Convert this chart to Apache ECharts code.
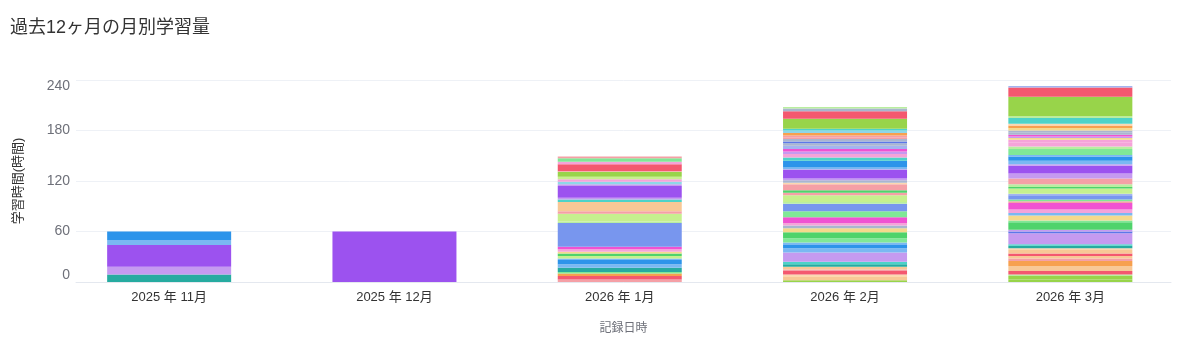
<!DOCTYPE html>
<html>
<head>
<meta charset="utf-8">
<script src="https://cdn.jsdelivr.net/npm/echarts@6/dist/echarts.min.js"></script>
<style>
  html, body { margin: 0; padding: 0; background: #fff; }
  #chart { width: 1183px; height: 343px; }
</style>
</head>
<body>
<div id="chart"></div>
<script>
// ---- data (values in hours, segments listed bottom to top) ----
const months = ['2025 年 11月', '2025 年 12月', '2026 年 1月', '2026 年 2月', '2026 年 3月'];
const yTicks = [0, 60, 120, 180, 240];

const nov = [9, 9, 26, 6, 10];
const dec = [60];
const jan = [3, 4, 3, 2, 5, 4, 5, 2, 3, 3, 2, 3, 3, 28, 2, 9, 3, 11, 3, 2, 14, 2, 3, 3, 3, 6, 1, 8, 3, 4, 2];
const feb = [2, 4, 3, 4, 2, 3, 3, 3, 11, 5, 4, 3, 5, 7, 5, 3, 3, 7, 7, 9, 2, 8, 3, 3, 7, 2, 3, 2, 10, 1, 2, 8, 4, 4, 3, 3, 4, 3, 2, 3, 2, 2, 3, 3, 2, 12, 9, 3, 2];
const mar = [3, 4, 2, 4, 6, 6, 3, 3, 3, 4, 2, 3, 2, 13, 2, 2, 9, 2, 6, 3, 4, 8, 2, 2, 5, 2, 6, 2, 3, 7, 3, 3, 9, 2, 4, 5, 2, 7, 3, 5, 3, 2, 2, 2, 3, 2, 3, 3, 2, 7, 2, 23, 11, 2];

// ---- styles (colour keys per segment, same order as the data) ----
const palette = {
  red: '#f4586f', green: '#98d44a', green2: '#4fd36b', mint: '#80e896', palegreen: '#b9eea0',
  lightgreen: '#c6f08e', teal: '#26aba0', cyan: '#4dd3c8', skyblue: '#8fd6e8', blue: '#2d94ea',
  lightblue: '#7ab8f2', royal: '#5b78e8', periwinkle: '#7896ee', lightperi: '#a3b4f0',
  purple: '#9c52ef', lavender: '#c59af0', magenta: '#f052d2', pinklight: '#f5a3d9',
  salmon: '#f5a0a6', peach: '#f8c896', apricot: '#fbd8b0', orange: '#f7a04e',
  yellow: '#f5d98c', greyblue: '#a9b6cf'
};
const novC = ['teal', 'lavender', 'purple', 'lightblue', 'blue'];
const decC = ['purple'];
const janC = ['salmon', 'red', 'orange', 'mint', 'teal', 'lightblue', 'blue', 'lightblue', 'lightgreen', 'green2', 'yellow', 'pinklight', 'magenta', 'periwinkle', 'palegreen', 'lightgreen', 'salmon', 'peach', 'cyan', 'lavender', 'purple', 'lavender', 'skyblue', 'pinklight', 'lightgreen', 'green', 'salmon', 'red', 'pinklight', 'mint', 'salmon'];
const febC = ['green', 'peach', 'apricot', 'red', 'salmon', 'peach', 'teal', 'cyan', 'lavender', 'lightblue', 'blue', 'lightblue', 'mint', 'green2', 'yellow', 'greyblue', 'pinklight', 'magenta', 'mint', 'periwinkle', 'palegreen', 'lightgreen', 'salmon', 'green2', 'salmon', 'apricot', 'greyblue', 'lavender', 'purple', 'lavender', 'lightblue', 'blue', 'cyan', 'pinklight', 'lavender', 'magenta', 'lightperi', 'greyblue', 'royal', 'greyblue', 'salmon', 'salmon', 'orange', 'skyblue', 'cyan', 'green', 'red', 'greyblue', 'palegreen'];
const marC = ['green', 'green', 'palegreen', 'red', 'peach', 'orange', 'salmon', 'peach', 'red', 'peach', 'apricot', 'teal', 'cyan', 'lavender', 'royal', 'lavender', 'green2', 'mint', 'yellow', 'lightblue', 'pinklight', 'magenta', 'salmon', 'mint', 'periwinkle', 'lightperi', 'lightgreen', 'green2', 'palegreen', 'salmon', 'lavender', 'lavender', 'purple', 'lavender', 'lightblue', 'blue', 'lightblue', 'mint', 'palegreen', 'pinklight', 'pinklight', 'yellow', 'lavender', 'magenta', 'greyblue', 'greyblue', 'yellow', 'orange', 'apricot', 'cyan', 'palegreen', 'green', 'red', 'lightperi'];

const perMonth = [nov, dec, jan, feb, mar];
const perMonthC = [novC, decC, janC, febC, marC];
const nSeg = Math.max(...perMonth.map(a => a.length));

const FONT = '"Liberation Sans", "Noto Sans CJK JP", sans-serif';

const series = [];
for (let i = 0; i < nSeg; i++) {
  series.push({
    type: 'bar',
    stack: 'total',
    xAxisIndex: 0,
    yAxisIndex: 0,
    barWidth: 124,
    itemStyle: { borderWidth: 0 },
    emphasis: { disabled: true },
    data: perMonth.map((arr, m) => arr[i] == null ? null : {
      value: arr[i],
      itemStyle: { color: palette[perMonthC[m][i]] }
    })
  });
}

const yMin = yTicks[0], yMax = yTicks[yTicks.length - 1];

const chart = echarts.init(document.getElementById('chart'), null, { renderer: 'canvas' });
chart.setOption({
  animation: false,
  backgroundColor: '#fff',
  textStyle: { fontFamily: FONT },
  title: {
    text: '過去12ヶ月の月別学習量',
    left: 5, top: 14,
    textStyle: { fontSize: 18, fontWeight: 'normal', color: '#333', fontFamily: FONT }
  },
  grid: [
    { left: 56.5, width: 1128, top: 80, bottom: 61 },
    { left: 76, right: 12, top: 80, bottom: 61 }
  ],
  xAxis: [
    {
      type: 'category', gridIndex: 0, data: months,
      axisLine: { show: false }, axisTick: { show: false },
      axisLabel: { color: '#333', fontSize: 13, margin: 9, fontFamily: FONT }
    },
    {
      type: 'category', gridIndex: 1, data: [''],
      axisLine: { show: true, lineStyle: { color: '#e4e8ef' } },
      axisTick: { show: false }, axisLabel: { show: false },
      name: '記録日時', nameLocation: 'middle', nameGap: 41,
      nameTextStyle: { color: '#6e7079', fontSize: 12, fontFamily: FONT }
    }
  ],
  yAxis: [
    { type: 'value', gridIndex: 0, min: yMin, max: yMax, interval: 60, show: false, splitLine: { show: false } },
    {
      type: 'value', gridIndex: 1, min: yMin, max: yMax, interval: 60,
      axisLine: { show: false }, axisTick: { show: false },
      axisLabel: {
        color: '#6e7079', fontSize: 14, margin: 6, fontFamily: FONT,
        formatter: v => v === yMin ? '{lo|' + v + '}' : v === yMax ? '{hi|' + v + '}' : String(v),
        rich: {
          lo: { padding: [0, 0, 13, 0], color: '#6e7079', fontSize: 14, fontFamily: FONT },
          hi: { padding: [13, 0, 0, 0], color: '#6e7079', fontSize: 14, fontFamily: FONT }
        }
      },
      splitLine: { lineStyle: { color: '#eef1f6' } },
      name: '学習時間(時間)', nameLocation: 'middle', nameGap: 51,
      nameTextStyle: { color: '#333', fontSize: 13, fontFamily: FONT }
    }
  ],
  series: series
});
</script>
</body>
</html>
